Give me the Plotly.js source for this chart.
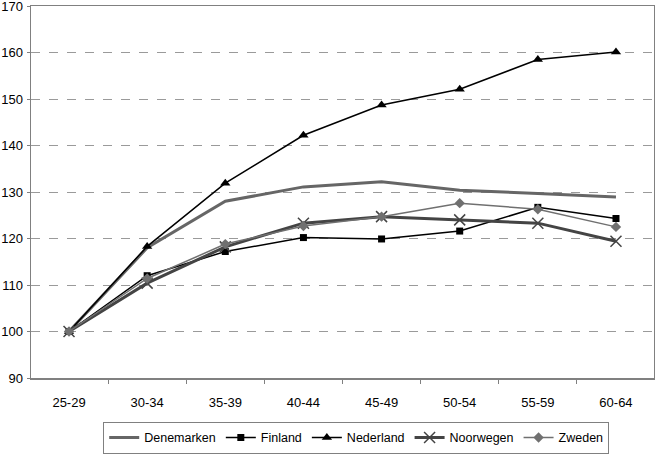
<!DOCTYPE html>
<html>
<head>
<meta charset="utf-8">
<script src="https://cdn.plot.ly/plotly-3.0.1.min.js"></script>
<style>
  body { margin: 0; background: #fff; }
  #plot-area { width: 655px; height: 455px; }
</style>
</head>
<body>
<div id="plot-area"></div>
<script>
// age groups on the x axis
var ageGroups = ["25-29", "30-34", "35-39", "40-44", "45-49", "50-54", "55-59", "60-64"];

// index values per country (25-29 = 100)
var denemarken = [100, 118.0, 128.0, 131.1, 132.2, 130.4, 129.7, 128.9];
var finland    = [100, 112.0, 117.2, 120.2, 119.9, 121.6, 126.7, 124.3];
var nederland  = [100, 118.3, 131.9, 142.2, 148.7, 152.1, 158.5, 160.1];
var noorwegen  = [100, 110.4, 118.2, 123.3, 124.7, 124.0, 123.3, 119.4];
var zweden     = [100, 111.4, 118.8, 122.7, 124.7, 127.6, 126.3, 122.5];

var yTicks = [90, 100, 110, 120, 130, 140, 150, 160, 170];

function MakePlot() {
    var data = [
        {
            x: ageGroups, y: denemarken, name: "Denemarken",
            mode: "lines",
            line: {color: "#666666", width: 3}
        },
        {
            x: ageGroups, y: finland, name: "Finland",
            mode: "lines+markers",
            line: {color: "#000000", width: 1.5},
            marker: {symbol: "square", size: 7, color: "#000000"}
        },
        {
            x: ageGroups, y: nederland, name: "Nederland",
            mode: "lines+markers",
            line: {color: "#000000", width: 1.5},
            marker: {symbol: "triangle-up", size: 9, color: "#000000"}
        },
        {
            x: ageGroups, y: noorwegen, name: "Noorwegen",
            mode: "lines+markers",
            line: {color: "#444444", width: 3},
            marker: {symbol: "x-thin-open", size: 11, color: "#444444", line: {width: 1.5, color: "#444444"}}
        },
        {
            x: ageGroups, y: zweden, name: "Zweden",
            mode: "lines+markers",
            line: {color: "#707070", width: 1.5},
            marker: {symbol: "diamond", size: 8, color: "#707070"}
        }
    ];

    var layout = {
        width: 655,
        height: 455,
        margin: {l: 31, r: 1, t: 6, b: 75},
        paper_bgcolor: "#ffffff",
        plot_bgcolor: "#ffffff",
        font: {family: "Liberation Sans, Arial, sans-serif", size: 13, color: "#000000"},
        showlegend: true,
        legend: {
            orientation: "h",
            x: 0.522, xanchor: "center",
            y: -0.118, yanchor: "top",
            bordercolor: "#808080", borderwidth: 1,
            font: {size: 12.5},
            tracegroupgap: 0,
            itemwidth: 30
        },
        xaxis: {
            type: "category",
            showline: true, mirror: true,
            linecolor: "#808080", linewidth: 1.5,
            ticks: "outside", tickson: "boundaries",
            ticklen: 4, tickcolor: "#808080",
            ticklabelstandoff: 12,
            showgrid: false, zeroline: false,
            fixedrange: true
        },
        yaxis: {
            range: [90, 170],
            tickvals: yTicks,
            ticklabeloverflow: "allow",
            showline: true, mirror: true,
            linecolor: "#808080", linewidth: 1.5,
            ticks: "outside", ticklen: 3, tickcolor: "#808080",
            showgrid: true, gridcolor: "#9a9a9a", griddash: "dash", gridwidth: 1,
            zeroline: false,
            ticklabelstandoff: 1
        }
    };

    Plotly.newPlot("plot-area", data, layout, {displayModeBar: false, staticPlot: true});
}

MakePlot();
</script>
</body>
</html>
